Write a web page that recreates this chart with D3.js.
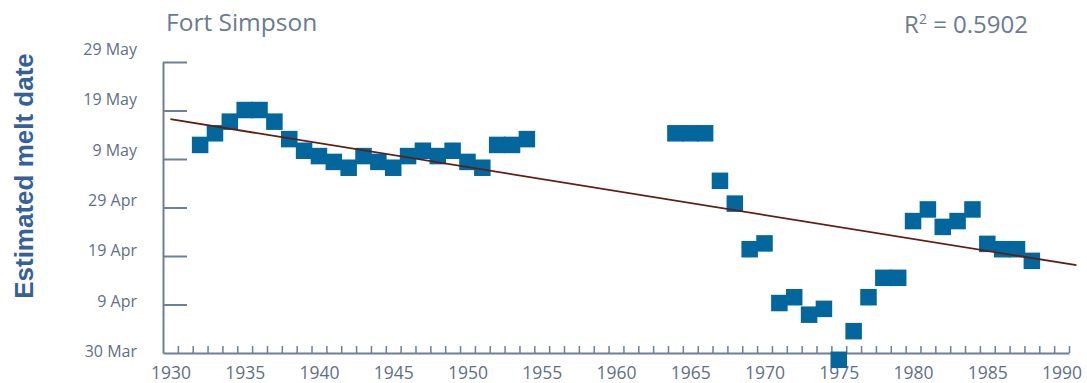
<!DOCTYPE html>
<html><head><meta charset="utf-8">
<script src="https://cdn.jsdelivr.net/npm/d3@7"></script>
<style>body{margin:0;background:#fff}svg{display:block}</style>
</head><body>
<svg id="chart" width="1087" height="383"></svg>
<script>
// Data: estimated melt date as days after 30 March
const years = [1932,1933,1934,1935,1936,1937,1938,1939,1940,1941,1942,1943,1944,1945,1946,1947,1948,1949,1950,1951,1952,1953,1954,
               1964,1965,1966,1967,1968,1969,1970,1971,1972,1973,1974,1975,1976,1977,1978,1979,1980,1981,1982,1983,1984,1985,1986,1987,1988];
const meltDays = [42.9,45.3,47.7,50.1,50.1,47.7,44.1,41.7,40.6,39.4,38.2,40.6,39.4,38.2,40.6,41.7,40.6,41.7,39.4,38.2,42.9,42.9,44.1,
                  45.3,45.3,45.3,35.5,30.8,21.4,22.6,10.3,11.5,7.9,9.1,-1.4,4.5,11.5,15.5,15.5,27.2,29.6,26.0,27.2,29.6,22.5,21.4,21.4,19.0];
const yTickDays = [0,10,20,30,40,50,60];
const yTickLabels = ["30 Mar","9 Apr","19 Apr","29 Apr","9 May","19 May","29 May"];
const xLabelYears = [1930,1935,1940,1945,1950,1955,1960,1965,1970,1975,1980,1985,1990];
const trendYears = [1930, 1991];
const trendDays = [48.2, 18.1];
const titleText = "Fort Simpson";
const rSquared = "0.5902";
const yTitle = "Estimated melt date";

const svg = d3.select("#chart");
const axisColor = "#6d7f98";
const labelColor = "#5f6f88";
const markColor = "#03669d";
const font = "'Open Sans', sans-serif";

const x = d3.scaleLinear().domain([1929.5, 1990.5]).range([163, 1069]);
const y = d3.scaleLinear().domain([0, 60]).range([353, 62]);
const yLab = d3.scaleLinear().domain([0, 60]).range([357, 55]);

// X axis with yearly ticks between categories
const gx = svg.append("g").attr("transform", "translate(0,353)")
  .call(d3.axisBottom(x).tickValues(d3.range(1930.5, 1991, 1)).tickSize(-7).tickSizeOuter(0).tickFormat(""));
gx.select(".domain").attr("stroke", axisColor).attr("stroke-width", 2);
gx.selectAll(".tick line").attr("stroke", axisColor).attr("stroke-width", 1.5);

const gxl = svg.append("g").attr("transform", "translate(0,353)")
  .call(d3.axisBottom(x).tickValues(xLabelYears).tickSize(0).tickFormat(d3.format("d")));
gxl.select(".domain").remove();
gxl.selectAll("text").attr("y", 26).attr("dy", 0).attr("fill", labelColor)
  .style("font-family", font).style("font-size", "17.5px");

// Y axis
const gy = svg.append("g").attr("transform", "translate(163,0)")
  .call(d3.axisRight(y).tickValues(yTickDays.slice(1)).tickSize(24).tickSizeOuter(0).tickFormat(""));
gy.select(".domain").attr("stroke", axisColor).attr("stroke-width", 2);
gy.selectAll(".tick line").attr("stroke", axisColor).attr("stroke-width", 2);

svg.append("g").selectAll("text").data(yTickDays).join("text")
  .attr("x", 137).attr("y", d => yLab(d)).attr("text-anchor", "end")
  .attr("fill", labelColor).style("font-family", font).style("font-size", "16px")
  .text((d, i) => yTickLabels[i]);

// Markers
const s = 16.5;
svg.append("g").selectAll("rect").data(years).join("rect")
  .attr("x", d => x(d) - s / 2)
  .attr("y", (d, i) => y(meltDays[i]) - s / 2)
  .attr("width", s).attr("height", s)
  .attr("fill", markColor);

// Trend line
svg.append("line")
  .attr("x1", x(trendYears[0])).attr("y1", y(trendDays[0]))
  .attr("x2", x(trendYears[1])).attr("y2", y(trendDays[1]))
  .attr("stroke", "#5e1f14").attr("stroke-width", 1.8);

// Title and R²
svg.append("text").attr("x", 166).attr("y", 31).attr("fill", "#6b7b91")
  .style("font-family", font).style("font-size", "24.5px").text(titleText);
const r = svg.append("text").attr("x", 1028).attr("y", 33).attr("text-anchor", "end").attr("fill", "#6b7b91")
  .style("font-family", font).style("font-size", "24px");
r.append("tspan").text("R");
r.append("tspan").attr("dy", -9).style("font-size", "14px").text("2");
r.append("tspan").attr("dy", 9).text(" = " + rSquared);

// Y title
svg.append("text").attr("transform", "translate(33,176) rotate(-90)")
  .attr("text-anchor", "middle").attr("fill", "#36609a")
  .style("font-family", "'Liberation Sans', Arial, sans-serif").style("font-weight", "bold").style("font-size", "26px")
  .text(yTitle);
</script>
</body></html>
